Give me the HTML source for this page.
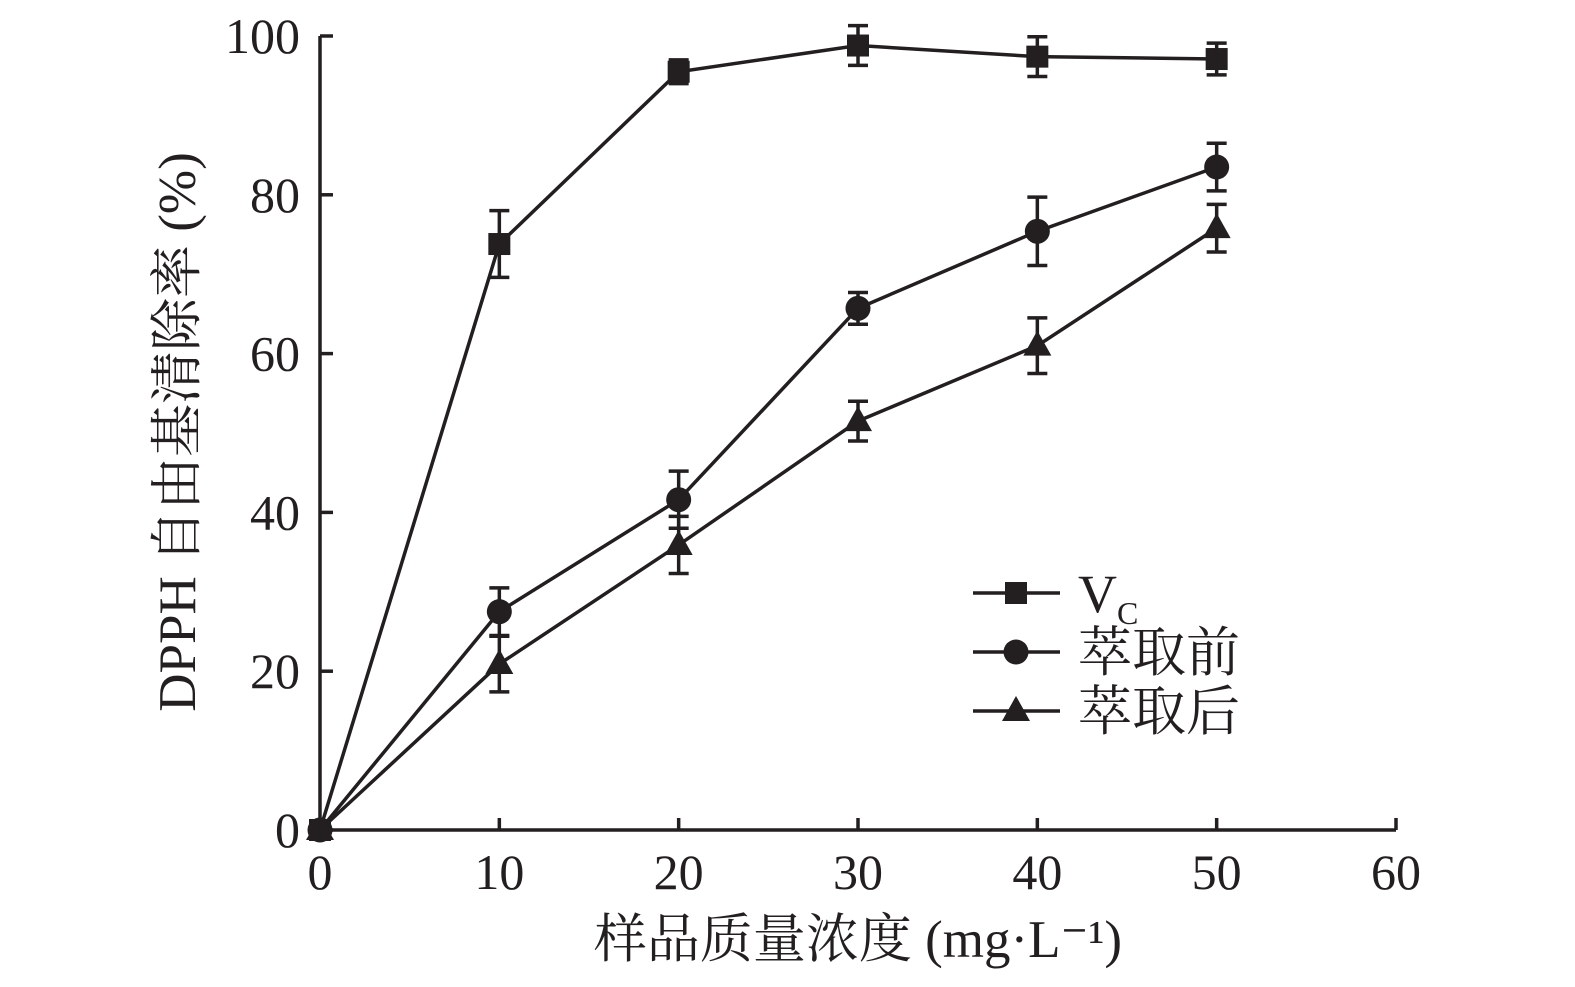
<!DOCTYPE html>
<html><head><meta charset="utf-8"><style>
body{margin:0;background:#fff}
svg text{font-family:"Liberation Serif","Noto Serif CJK SC",serif;fill:#231f20}
</style></head><body>
<svg id="chart" width="1575" height="982" xmlns="http://www.w3.org/2000/svg">
<g id="axes"></g><g id="series"></g><g id="legend"></g>
</svg>
<script>
const xValues=[0,10,20,30,40,50];
const vcValues=[0,73.8,95.5,98.8,97.4,97.1];
const vcErr=[0,4.2,1.5,2.5,2.5,2];
const beforeValues=[0,27.5,41.6,65.7,75.4,83.5];
const beforeErr=[0,3,3.6,2,4.3,3];
const afterValues=[0,20.9,35.9,51.5,61,75.8];
const afterErr=[0,3.5,3.6,2.5,3.5,3];
const xTicks=[0,10,20,30,40,50,60];
const yTicks=[0,20,40,60,80,100];
const NS="http://www.w3.org/2000/svg";
const X=v=>320+v*(1396-320)/60;
const Y=v=>830-v*(830-36)/100;
const C="#231f20";
function mk(tag,attrs,parent,text){const e=document.createElementNS(NS,tag);for(const k in attrs)e.setAttribute(k,attrs[k]);if(text!==undefined)e.textContent=text;parent.appendChild(e);return e;}
const ax=document.getElementById('axes');
let e=mk('line',{x1:X(0),y1:Y(0),x2:X(60),y2:Y(0),stroke:C,'stroke-width':3.5},ax);


e=mk('line',{x1:X(0),y1:Y(0),x2:X(0),y2:Y(100),stroke:C,'stroke-width':3.5},ax);


xTicks.forEach(t=>{
 mk('line',{x1:X(t),y1:Y(0),x2:X(t),y2:Y(0)-12,stroke:C,'stroke-width':3.5},ax);
 e=mk('text',{x:X(t),y:889,'font-size':50,'text-anchor':'middle'},ax,t);
 
 
});
yTicks.forEach(t=>{
 mk('line',{x1:X(0),y1:Y(t),x2:X(0)+13,y2:Y(t),stroke:C,'stroke-width':3.5},ax);
 e=mk('text',{x:300,y:Y(t)+17,'font-size':50,'text-anchor':'end'},ax,t);
 
 
});
e=mk('text',{x:858,y:957,'font-size':53,'text-anchor':'middle'},ax,'样品质量浓度 (mg·L⁻¹)');


e=mk('text',{x:0,y:0,'font-size':53,'text-anchor':'middle',transform:'translate(195,432) rotate(-90)'},ax,'DPPH 自由基清除率 (%)');


function marker(type,x,y,p){
 if(type==='square')return mk('rect',{x:x-11,y:y-11,width:22,height:22,fill:C},p);
 if(type==='circle')return mk('circle',{cx:x,cy:y,r:12.5,fill:C},p);
 return mk('polygon',{points:`${x},${y-15} ${x-14},${y+10} ${x+14},${y+10}`,fill:C},p);
}
const sg=document.getElementById('series');
[[vcValues,vcErr,'square','vc'],[beforeValues,beforeErr,'circle','before-extraction'],[afterValues,afterErr,'triangle','after-extraction']].forEach(([vals,errs,type,name])=>{
 const g=mk('g',{},sg);
 
 
 e=mk('polyline',{points:xValues.map((x,i)=>X(x)+','+Y(vals[i])).join(' '),fill:'none',stroke:C,'stroke-width':3.5},g);
 
 
 xValues.forEach((x,i)=>{
  if(errs[i]>0){
   const t=Y(vals[i]+errs[i]),b=Y(vals[i]-errs[i]);
   mk('line',{x1:X(x),y1:t,x2:X(x),y2:b,stroke:C,'stroke-width':3.5},g);
   mk('line',{x1:X(x)-10,y1:t,x2:X(x)+10,y2:t,stroke:C,'stroke-width':3.5},g);
   mk('line',{x1:X(x)-10,y1:b,x2:X(x)+10,y2:b,stroke:C,'stroke-width':3.5},g);
  }
  e=marker(type,X(x),Y(vals[i]),g);
  
  
 });
});
const lg=document.getElementById('legend');
[['square','V',593,'legend-vc'],['circle','萃取前',652,'legend-before'],['triangle','萃取后',711,'legend-after']].forEach(([type,label,y,name])=>{
 const g=mk('g',{},lg);
 
 
 mk('line',{x1:973,y1:y,x2:1060,y2:y,stroke:C,'stroke-width':3.5},g);
 marker(type,1016,y,g);
 const t=mk('text',{x:1078,y:y+19,'font-size':54},g,label);
 if(type==='square'){mk('tspan',{'font-size':32,dy:12},t,'C');}
});
</script>
</body></html>
